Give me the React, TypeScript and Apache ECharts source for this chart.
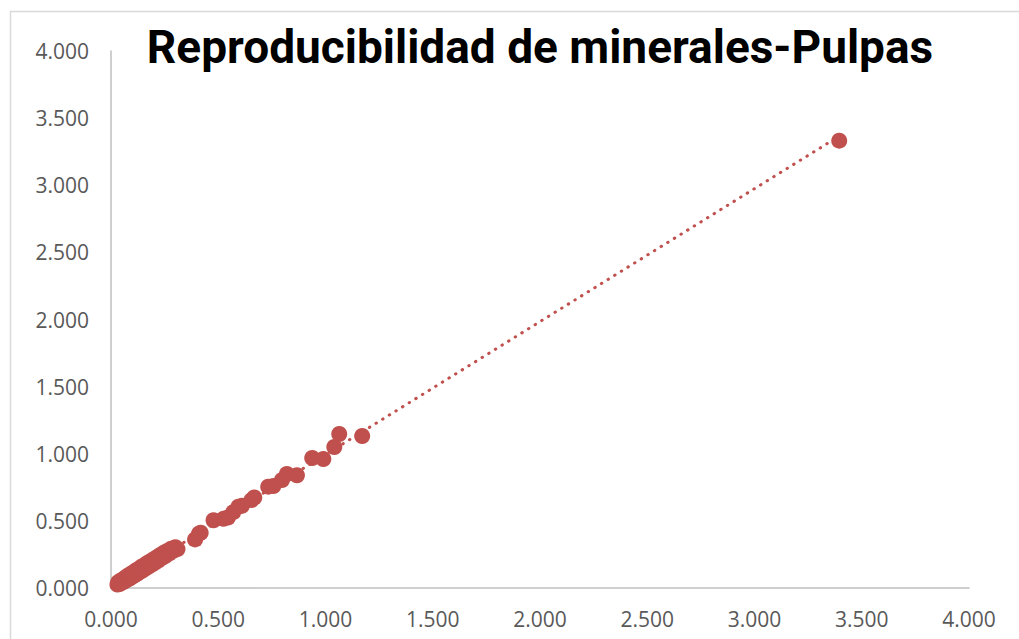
import React, { useEffect, useRef } from "react";
import * as echarts from "echarts";

const TITLE = "Reproducibilidad de minerales-Pulpas";
const AXIS_MIN = 0;
const AXIS_MAX = 4;
const AXIS_STEP = 0.5;

const xValues = [
  0.030, 0.034, 0.040, 0.046, 0.052, 0.058, 0.063, 0.069, 0.074, 0.080,
  0.086, 0.092, 0.097, 0.103, 0.110, 0.116, 0.122, 0.128, 0.135, 0.142,
  0.148, 0.155, 0.162, 0.168, 0.175, 0.182, 0.190, 0.197, 0.205, 0.212,
  0.220, 0.228, 0.236, 0.245, 0.253, 0.262, 0.270, 0.280, 0.290, 0.300,
  0.310, 0.392, 0.410, 0.418, 0.478, 0.524, 0.545, 0.570, 0.594, 0.610,
  0.655, 0.668, 0.733, 0.757, 0.797, 0.820, 0.867, 0.938, 0.990, 1.041,
  1.064, 1.171, 3.395,
];
const yValues = [
  0.026, 0.044, 0.030, 0.056, 0.040, 0.068, 0.050, 0.080, 0.060, 0.094,
  0.071, 0.104, 0.082, 0.116, 0.095, 0.130, 0.106, 0.142, 0.120, 0.158,
  0.132, 0.170, 0.147, 0.184, 0.160, 0.198, 0.174, 0.212, 0.190, 0.228,
  0.204, 0.244, 0.222, 0.262, 0.238, 0.276, 0.256, 0.292, 0.276, 0.304,
  0.290, 0.362, 0.405, 0.412, 0.505, 0.515, 0.525, 0.565, 0.606, 0.612,
  0.655, 0.675, 0.755, 0.760, 0.804, 0.849, 0.840, 0.968, 0.961, 1.050,
  1.147, 1.132, 3.332,
];

const COLOR = "#C0504D";

function fmt(v: number) {
  return v.toFixed(3);
}

export default function App() {
  const ref = useRef<HTMLDivElement>(null);

  useEffect(() => {
    if (!ref.current) return;
    const chart = echarts.init(ref.current, undefined, { renderer: "svg" });

    const points = xValues.map((x, i) => [x, yValues[i]]);
    // linear least-squares trendline through the data
    const n = xValues.length;
    const mx = xValues.reduce((a, b) => a + b, 0) / n;
    const my = yValues.reduce((a, b) => a + b, 0) / n;
    let sxy = 0;
    let sxx = 0;
    for (let i = 0; i < n; i++) {
      sxy += (xValues[i] - mx) * (yValues[i] - my);
      sxx += (xValues[i] - mx) * (xValues[i] - mx);
    }
    const slope = sxy / sxx;
    const intercept = my - slope * mx;
    const x0 = Math.min(...xValues);
    const x1 = Math.max(...xValues);
    const trend = [
      [x0, intercept + slope * x0],
      [x1, intercept + slope * x1],
    ];

    const labelStyle = {
      color: "#595959",
      fontSize: 21,
      fontFamily: "Open Sans",
      formatter: fmt,
    };

    chart.setOption({
      animation: false,
      backgroundColor: "#ffffff",
      title: {
        text: TITLE,
        left: 535,
        textAlign: "center",
        top: 19,
        textStyle: {
          fontFamily: "Roboto",
          fontWeight: "bold",
          fontSize: 46,
          color: "#000000",
        },
      },
      graphic: [
        {
          type: "rect",
          shape: { x: 10.5, y: 11.5, width: 2000, height: 2000 },
          style: { fill: "none", stroke: "#D9D9D9", lineWidth: 1.5 },
          silent: true,
        },
      ],
      grid: { left: 111, right: 50, top: 51, bottom: 51 },
      xAxis: {
        type: "value",
        min: AXIS_MIN,
        max: AXIS_MAX,
        interval: AXIS_STEP,
        axisLine: { show: true, lineStyle: { color: "#BFBFBF", width: 1.5 } },
        axisTick: { show: false },
        splitLine: { show: false },
        axisLabel: { ...labelStyle, margin: 20 },
      },
      yAxis: {
        type: "value",
        min: AXIS_MIN,
        max: AXIS_MAX,
        interval: AXIS_STEP,
        axisLine: { show: true, lineStyle: { color: "#BFBFBF", width: 1.5 } },
        axisTick: { show: false },
        splitLine: { show: false },
        axisLabel: { ...labelStyle, margin: 22 },
      },
      series: [
        {
          type: "line",
          data: trend,
          symbol: "none",
          z: 1,
          lineStyle: {
            color: COLOR,
            width: 3,
            type: [0.5, 7.3],
            cap: "round",
          },
        },
        {
          type: "scatter",
          data: points,
          symbol: "circle",
          symbolSize: 16,
          z: 2,
          itemStyle: { color: COLOR, opacity: 1 },
        },
      ],
    });

    return () => chart.dispose();
  }, []);

  return (
    <div
      ref={ref}
      style={{ position: "fixed", left: 0, top: 0, width: 1019, height: 639 }}
    />
  );
}
